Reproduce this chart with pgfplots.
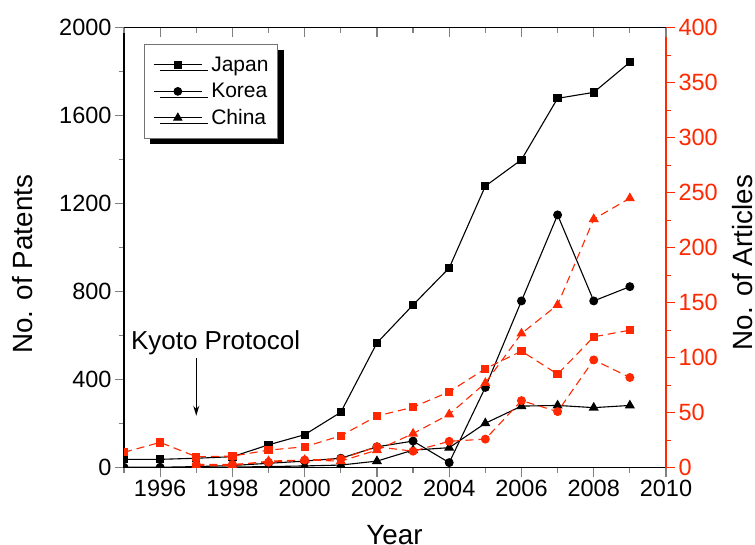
\documentclass[border=0pt]{standalone}
\usepackage{pgfplots}
\pgfplotsset{compat=1.18}
\usepackage{fontspec}
\setmainfont{Liberation Sans}
\usetikzlibrary{arrows.meta,shadows}
\definecolor{ored}{RGB}{255,40,0}

\begin{document}
\begin{tikzpicture}
\pgfplotsset{
 base/.style={scale only axis, width=542pt, height=440pt, xmin=1995, xmax=2010,
   /pgf/number format/assume math mode=true,
   /pgf/number format/1000 sep={},
   tick label style={font=\fontsize{23.5}{28}\selectfont},
   major tick length=9pt, minor tick length=5pt,
   axis line style={line width=1.4pt},
   tick style={line width=1.2pt},
   clip marker paths=true,
   xtick={1996,1998,...,2010}, minor xtick={1995,1997,...,2009},
 }
}
\begin{axis}[base, name=main,
  axis x line*=bottom, axis y line*=left, tick align=outside,
  ymin=0, ymax=2000, ytick={0,400,...,2000}, minor ytick={200,600,...,1800},
  xlabel={Year}, ylabel={No. of Patents},
  every axis x label/.style={at={(axis description cs:0.499,-0.153)}, anchor=center, font=\fontsize{27.8}{32}\selectfont},
  every axis y label/.style={at={(axis description cs:-0.1863,0.4625)}, anchor=center, rotate=90, font=\fontsize{27.8}{32}\selectfont},
  legend style={at={(rel axis cs:0.0369,0.963)}, anchor=north west, draw=black!55, line width=0.8pt,
    font=\fontsize{21}{24}\selectfont, row sep=9.5pt, column sep=9pt, inner xsep=9pt, inner ysep=12pt,
    nodes={inner sep=0pt, text height=15pt, text depth=2pt},
    drop shadow={shadow xshift=6pt, shadow yshift=-6pt, fill=black, opacity=1}},
  legend cell align=left,
  legend image code/.code={\draw[line width=0.9pt, mark repeat=2,mark phase=2] plot coordinates {(0pt,0pt) (24pt,0pt) (48pt,0pt)};},
]
\addplot[black, line width=1.1pt, mark=square*, mark size=3.6pt] coordinates {
(1995,38) (1996,38) (1997,43) (1998,50) (1999,104) (2000,150) (2001,252) (2002,567) (2003,740) (2004,908) (2005,1280) (2006,1400) (2007,1679) (2008,1706) (2009,1843)};
\addlegendentry{Japan}
\addplot[black, line width=1.1pt, mark=*, mark size=3.9pt] coordinates {
(1995,2) (1996,2) (1997,5) (1998,10) (1999,20) (2000,30) (2001,43) (2002,95) (2003,121) (2004,23) (2005,365) (2006,758) (2007,1149) (2008,758) (2009,823)};
\addlegendentry{Korea}
\addplot[black, line width=1.1pt, mark=triangle*, mark size=4.7pt] coordinates {
(1995,0) (1996,0) (1997,2) (1998,3) (1999,5) (2000,8) (2001,12) (2002,30) (2003,80) (2004,91) (2005,202) (2006,280) (2007,283) (2008,273) (2009,283)};
\addlegendentry{China}
\node[anchor=base west, font=\fontsize{26}{30}\selectfont, inner sep=0pt] at (axis cs:1995.19,538) {Kyoto Protocol};
\draw[line width=1.4pt, -{Stealth[length=10pt,width=6pt]}] (axis cs:1997,499) -- (axis cs:1997,236);
\end{axis}

\begin{axis}[base,
  axis x line=none, axis y line*=right, tick align=outside,
  ymin=0, ymax=400, ytick={0,50,...,400}, minor ytick={25,75,...,375},
  y axis line style={ored}, yticklabel style={ored}, y tick style={ored},
  ylabel={No. of Articles},
  every axis y label/.style={at={(axis description cs:1.1411,0.466)}, anchor=center, rotate=90, font=\fontsize{27.8}{32}\selectfont},
]
\addplot[ored, line width=1.1pt, dash pattern=on 8pt off 5pt, mark=square*, mark size=3.6pt, mark options={solid}] coordinates {
(1995,14) (1996,23) (1997,10) (1998,10.5) (1999,16) (2000,19) (2001,29) (2002,47) (2003,55) (2004,69) (2005,90) (2006,106) (2007,85) (2008,119) (2009,125)};
\addplot[ored, line width=1.1pt, dash pattern=on 8pt off 5pt, mark=*, mark size=3.9pt, mark options={solid}] coordinates {
(1997,3) (1998,3) (1999,5) (2000,7) (2001,8) (2002,19) (2003,15) (2004,24) (2005,26) (2006,61) (2007,51) (2008,98) (2009,82)};
\addplot[ored, line width=1.1pt, dash pattern=on 8pt off 5pt, mark=triangle*, mark size=4.7pt, mark options={solid}] coordinates {
(1997,2) (1998,2) (1999,6) (2000,7) (2001,6) (2002,16) (2003,31) (2004,48.5) (2005,77) (2006,122) (2007,148) (2008,226) (2009,245)};
\end{axis}

\begin{axis}[base,
  axis x line*=top, axis y line=none, tick align=inside,
  xticklabels={}, ymin=0, ymax=1, ytick=\empty,
]
\end{axis}

\pgfresetboundingbox
\path[use as bounding box] ([xshift=-124pt,yshift=-76.3pt]main.south west) rectangle ([xshift=631pt,yshift=467.7pt]main.south west);
\end{tikzpicture}
\end{document}
